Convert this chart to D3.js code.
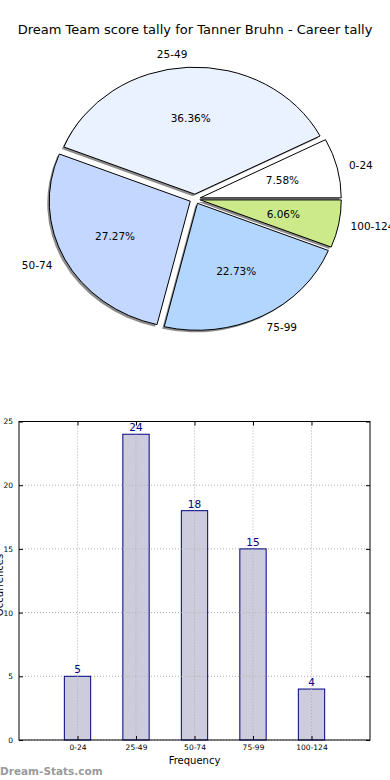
<!DOCTYPE html>
<html>
<head>
<meta charset="utf-8">
<script src="https://cdn.jsdelivr.net/npm/d3@7"></script>
<style>
  html, body { margin: 0; padding: 0; background: #fff; }
  svg { display: block; font-family: "DejaVu Sans", sans-serif; }
</style>
</head>
<body>
<svg id="chart" width="390" height="780"></svg>
<script>
// ---- data ----
const categories = ["0-24", "25-49", "50-74", "75-99", "100-124"];
const counts = [5, 24, 18, 15, 4];
const sliceColors = ["#ffffff", "#eaf1ff", "#c4d8ff", "#b3d6ff", "#cdea8a"];
const yTicks = [0, 5, 10, 15, 20, 25];
const titleText = "Dream Team score tally for Tanner Bruhn - Career tally";
const xLabel = "Frequency";
const yLabel = "Occurrences";
const watermark = "Dream-Stats.com";

(function () {
const svg = d3.select("#chart");

// ---- title ----
svg.append("text").attr("x", 195).attr("y", 34).attr("text-anchor", "middle")
  .attr("font-size", 13).attr("fill", "#000").text(titleText);

// ---- pie ----
const cx = 195, cy = 199, rx = 141, ry = 127, R = 100, explode = 0.038;
const total = d3.sum(counts);
const pie = d3.pie().sort(null).value(d => d)
  .startAngle(Math.PI / 2).endAngle(Math.PI / 2 - 2 * Math.PI);
const arcs = pie(counts);
const arc = d3.arc().innerRadius(0).outerRadius(R);

function midTheta(a) {
  const m = (a.startAngle + a.endAngle) / 2;
  return Math.PI / 2 - m;
}
function offset(a) {
  const t = midTheta(a);
  return [explode * rx * Math.cos(t), -explode * ry * Math.sin(t)];
}

const pieG = svg.append("g");
arcs.forEach(a => {
  const [dx, dy] = offset(a);
  pieG.append("path")
    .attr("transform", `translate(${cx + dx - 2},${cy + dy + 2}) scale(${rx / R},${ry / R})`)
    .attr("d", arc(a))
    .attr("fill", "#000").attr("fill-opacity", 0.45);
});
arcs.forEach((a, i) => {
  const [dx, dy] = offset(a);
  pieG.append("path")
    .attr("transform", `translate(${cx + dx},${cy + dy}) scale(${rx / R},${ry / R})`)
    .attr("d", arc(a))
    .attr("fill", sliceColors[i]).attr("stroke", "#000").attr("stroke-width", 1)
    .attr("vector-effect", "non-scaling-stroke").attr("stroke-linejoin", "round");
});
arcs.forEach((a, i) => {
  const [dx, dy] = offset(a);
  const t = midTheta(a);
  const lx = cx + dx + 1.1 * rx * Math.cos(t) - (Math.cos(t) > 0 ? 2 : 0);
  const ly = cy + dy - 1.1 * ry * Math.sin(t);
  pieG.append("text").attr("x", lx).attr("y", ly).attr("dy", "0.35em")
    .attr("text-anchor", Math.cos(t) > 0 ? "start" : "end")
    .attr("font-size", 10.5).attr("fill", "#000").text(categories[i]);
  const px = cx + dx + 0.6 * rx * Math.cos(t);
  const py = cy + dy - 0.6 * ry * Math.sin(t);
  pieG.append("text").attr("x", px).attr("y", py).attr("dy", "0.35em")
    .attr("text-anchor", "middle").attr("font-size", 10.5).attr("fill", "#000")
    .text((a.value / total * 100).toFixed(2) + "%");
});

// ---- bar chart ----
const pl = 19, pr = 370, pt = 421.5, pb = 740;
const x = d3.scaleLinear().domain([0, categories.length + 1]).range([pl, pr]);
const y = d3.scaleLinear().domain([0, 25]).range([pb, pt]);
const barW = 0.45;
const barG = svg.append("g");

barG.selectAll(".hg").data(yTicks).enter().append("line")
  .attr("x1", pl).attr("x2", pr).attr("y1", d => y(d)).attr("y2", d => y(d))
  .attr("stroke", "#b0b0b0").attr("stroke-width", 1).attr("stroke-dasharray", "1,2");
barG.selectAll(".vg").data(categories).enter().append("line")
  .attr("x1", (d, i) => x(i + 1)).attr("x2", (d, i) => x(i + 1))
  .attr("y1", pt).attr("y2", pb)
  .attr("stroke", "#b0b0b0").attr("stroke-width", 1).attr("stroke-dasharray", "1,2");

barG.selectAll(".bar").data(counts).enter().append("rect")
  .attr("x", (d, i) => x(i + 1 - barW / 2))
  .attr("width", x(barW) - x(0))
  .attr("y", d => y(d)).attr("height", d => y(0) - y(d))
  .attr("fill", "#ccccdd")
  .attr("stroke", "#000080").attr("stroke-width", 1);
barG.selectAll(".vg2").data(categories).enter().append("line")
  .attr("x1", (d, i) => x(i + 1)).attr("x2", (d, i) => x(i + 1))
  .attr("y1", (d, i) => y(counts[i])).attr("y2", pb)
  .attr("stroke", "#b0b0b0").attr("stroke-width", 1).attr("stroke-dasharray", "1,2");
yTicks.filter(v => v > 0).forEach(v => {
  counts.forEach((c, i) => {
    if (c > v) barG.append("line")
      .attr("x1", x(i + 1 - barW / 2)).attr("x2", x(i + 1 + barW / 2))
      .attr("y1", y(v)).attr("y2", y(v))
      .attr("stroke", "#b0b0b0").attr("stroke-width", 1).attr("stroke-dasharray", "1,2");
  });
});

barG.selectAll(".vl").data(counts).enter().append("text")
  .attr("x", (d, i) => x(i + 1)).attr("y", d => y(d) - 3)
  .attr("text-anchor", "middle").attr("font-size", 10.5).attr("fill", "#000080")
  .text(d => d);

barG.append("rect").attr("x", pl).attr("y", pt)
  .attr("width", pr - pl).attr("height", pb - pt)
  .attr("fill", "none").attr("stroke", "#000").attr("stroke-width", 1);

const yAxisL = d3.axisLeft(y).tickValues(yTicks).tickSizeInner(-4).tickSizeOuter(0).tickPadding(6);
const gy = barG.append("g").attr("transform", `translate(${pl},0)`).call(yAxisL);
gy.select(".domain").remove();
gy.selectAll("text").attr("font-size", 7.5).attr("font-family", "DejaVu Sans, sans-serif").attr("fill", "#000");
gy.selectAll("line").attr("stroke", "#000");
const yAxisR = d3.axisRight(y).tickValues(yTicks).tickSizeInner(-4).tickSizeOuter(0).tickFormat("");
const gyr = barG.append("g").attr("transform", `translate(${pr},0)`).call(yAxisR);
gyr.select(".domain").remove();
gyr.selectAll("line").attr("stroke", "#000");

const xAxisB = d3.axisBottom(x).tickValues(categories.map((c, i) => i + 1))
  .tickFormat((d, i) => categories[i]).tickSizeInner(-4).tickSizeOuter(0).tickPadding(5);
const gx = barG.append("g").attr("transform", `translate(0,${pb})`).call(xAxisB);
gx.select(".domain").remove();
gx.selectAll("text").attr("font-size", 7.5).attr("font-family", "DejaVu Sans, sans-serif").attr("fill", "#000");
gx.selectAll("line").attr("stroke", "#000");
const xAxisT = d3.axisTop(x).tickValues(categories.map((c, i) => i + 1))
  .tickFormat("").tickSizeInner(-4).tickSizeOuter(0);
const gxt = barG.append("g").attr("transform", `translate(0,${pt})`).call(xAxisT);
gxt.select(".domain").remove();
gxt.selectAll("line").attr("stroke", "#000");

svg.append("text").attr("x", (pl + pr) / 2).attr("y", 764)
  .attr("text-anchor", "middle").attr("font-size", 10).attr("fill", "#000").text(xLabel);
svg.append("text").attr("transform", `translate(3,585) rotate(-90)`)
  .attr("text-anchor", "middle").attr("font-size", 10).attr("fill", "#000").text(yLabel);

svg.append("text").attr("x", 0).attr("y", 775).attr("font-size", 10.5)
  .attr("font-weight", "bold").attr("fill", "#9a9a9a").text(watermark);
})();
</script>
</body>
</html>
